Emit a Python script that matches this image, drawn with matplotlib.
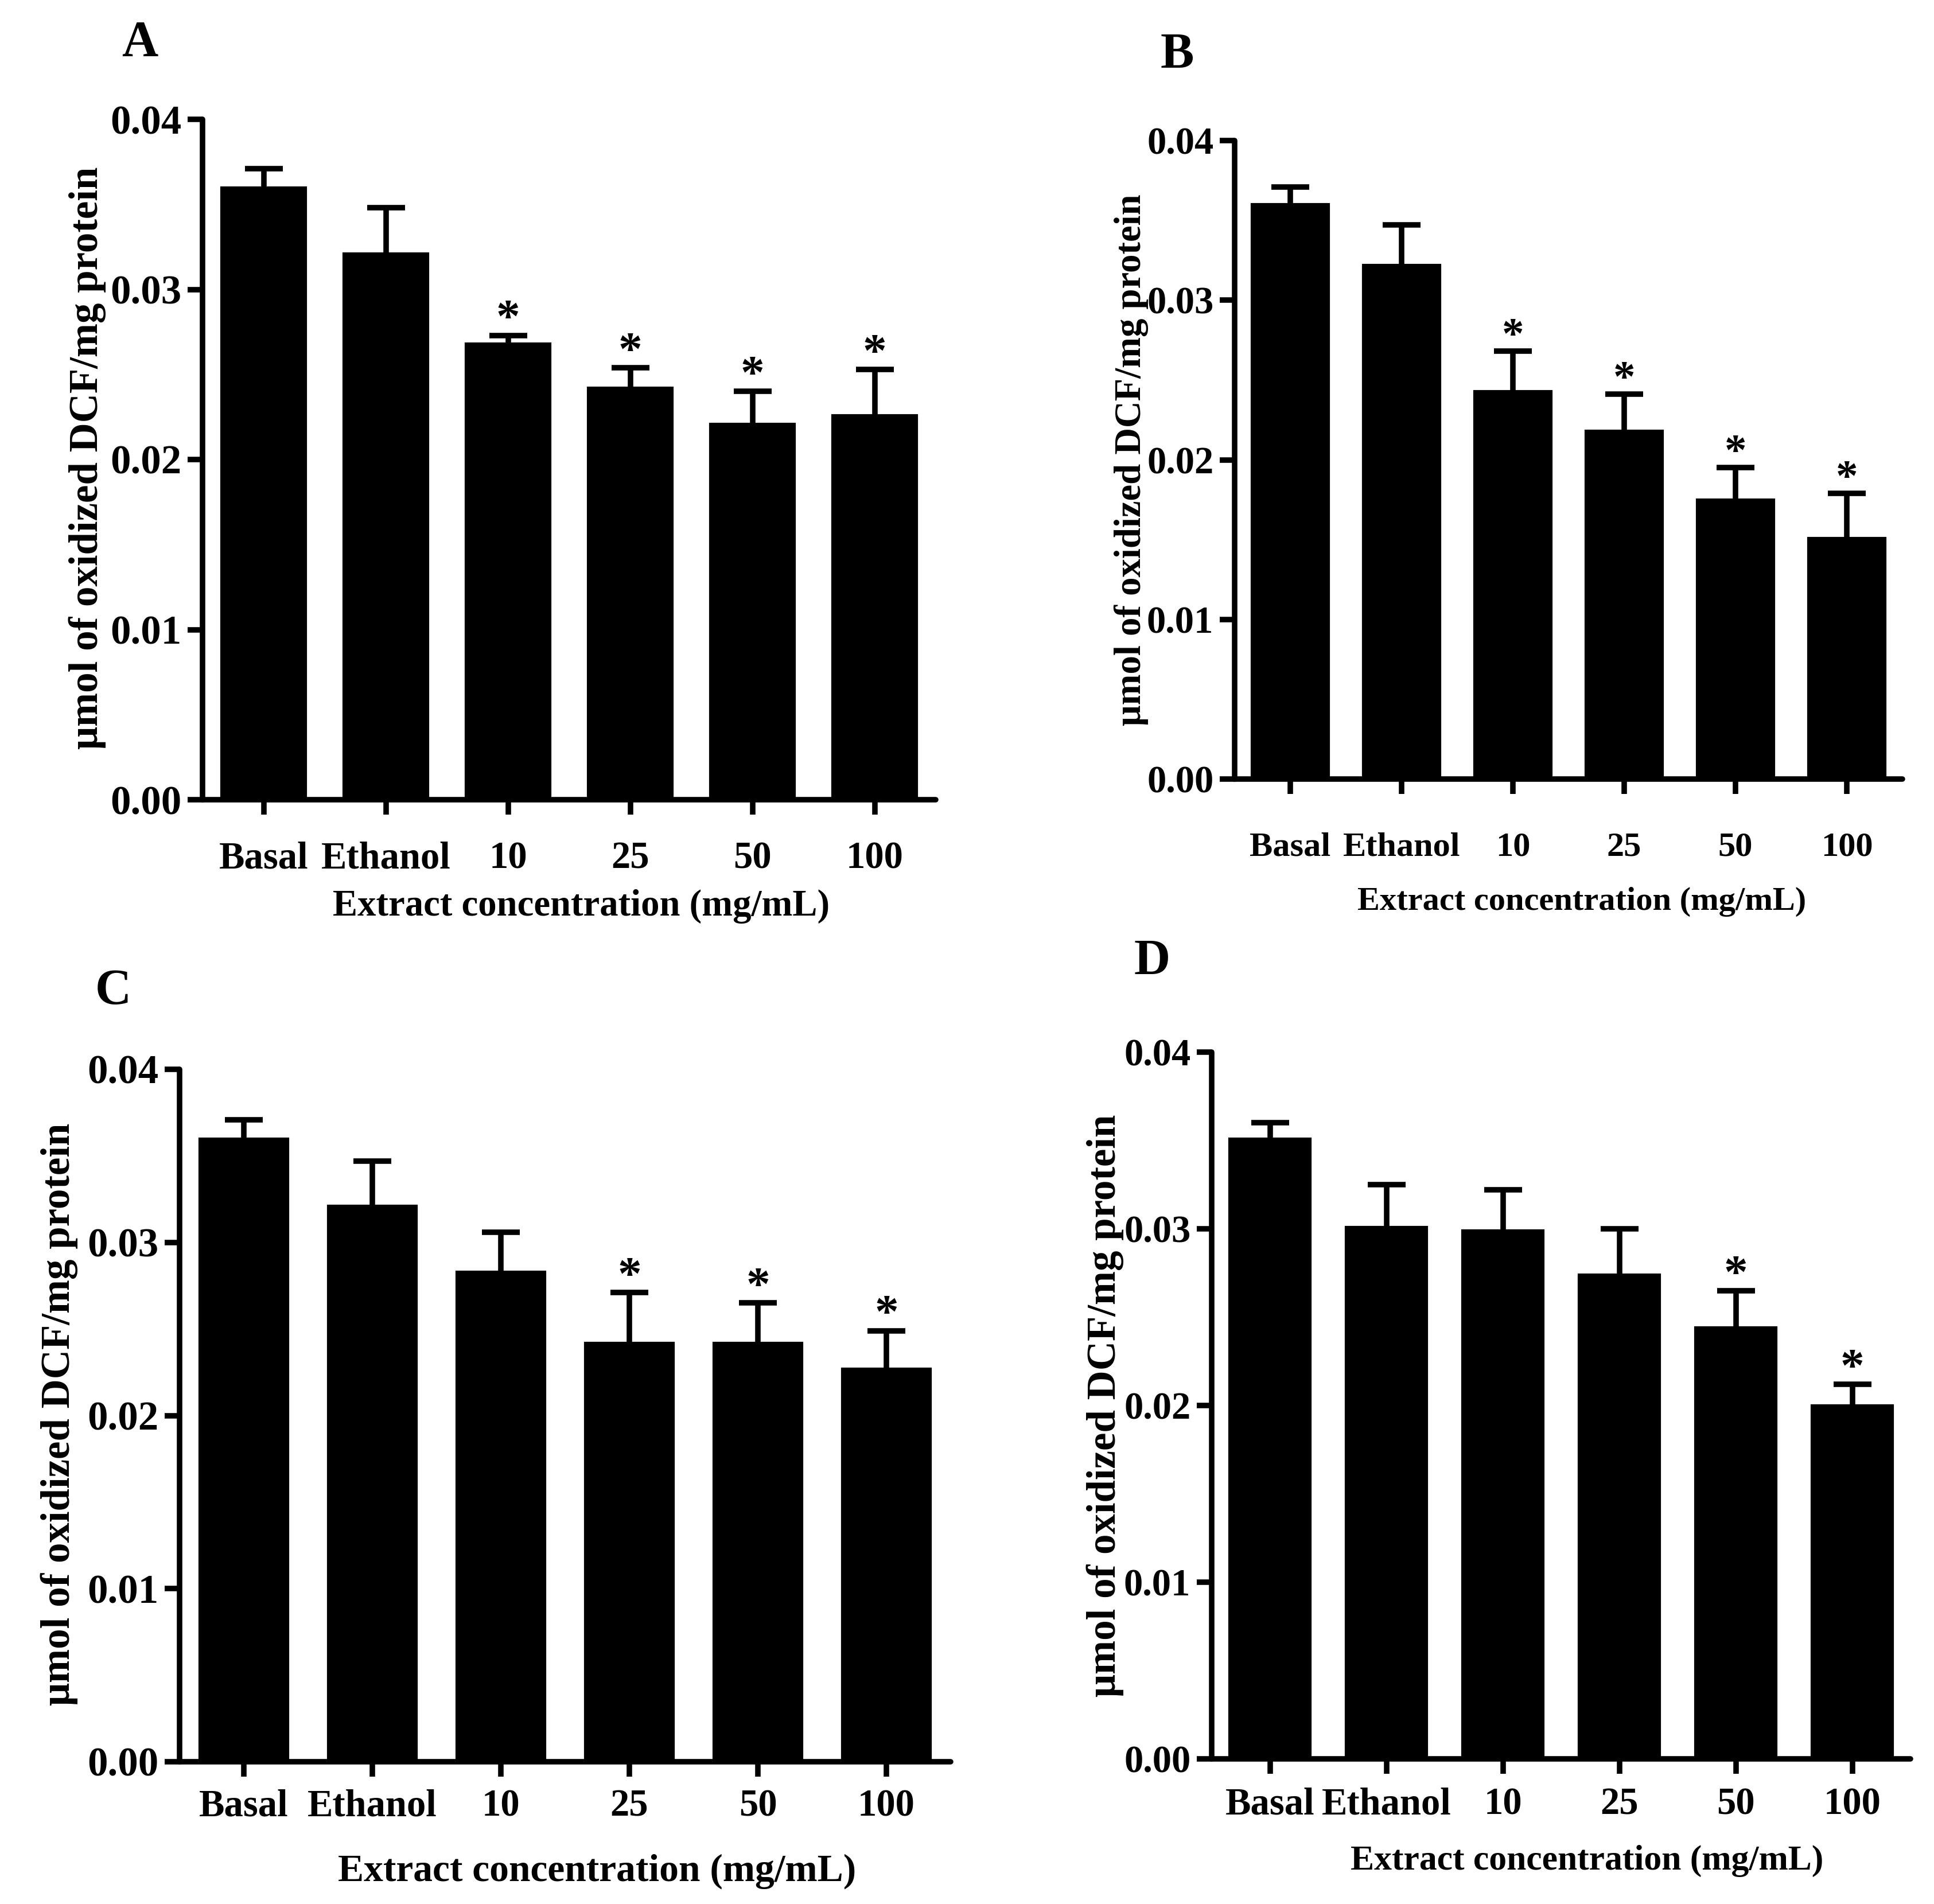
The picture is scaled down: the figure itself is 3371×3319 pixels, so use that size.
import matplotlib
matplotlib.use("Agg")
import matplotlib.pyplot as plt
import numpy as np

# ---------------------------------------------------------
# data
# ---------------------------------------------------------
CATEGORIES = ["Basal", "Ethanol", "10", "25", "50", "100"]
Y_TICKS = [0.00, 0.01, 0.02, 0.03, 0.04]
Y_LABEL = "\u03bcmol of oxidized DCF/mg protein"
X_LABEL = "Extract concentration (mg/mL)"

A_MEAN = [0.0360, 0.0321, 0.0268, 0.0242, 0.0221, 0.0226]
A_SEM = [0.0011, 0.0027, 0.0005, 0.0012, 0.0019, 0.0027]
A_STAR = [False, False, True, True, True, True]

B_MEAN = [0.0360, 0.0322, 0.0243, 0.0218, 0.0175, 0.0151]
B_SEM = [0.0011, 0.0025, 0.0025, 0.0023, 0.0020, 0.0028]
B_STAR = [False, False, True, True, True, True]

C_MEAN = [0.0360, 0.0321, 0.0283, 0.0242, 0.0242, 0.0227]
C_SEM = [0.0011, 0.0026, 0.0023, 0.0029, 0.0023, 0.0022]
C_STAR = [False, False, False, True, True, True]

D_MEAN = [0.0351, 0.0301, 0.0299, 0.0274, 0.0244, 0.0200]
D_SEM = [0.0009, 0.0024, 0.0023, 0.0026, 0.0021, 0.0012]
D_STAR = [False, False, False, False, True, True]

# ---------------------------------------------------------
# layout, in pixels of the 3371 x 3319 image
# ---------------------------------------------------------
W, H, DPI = 3371, 3319, 300
LW = 2.3

# letter, data, axes box (left, top, right, bottom),
# font sizes (yticks, xticks, ylabel, xlabel), x tick pad,
# ylabel centre, xlabel centre, letter centre
PANELS = [
    ("A", A_MEAN, A_SEM, A_STAR, (353, 208, 1631, 1394), (17, 16, 17, 15.5), 11,
     (152, 798), (1013, 1580), (244, 76)),
    ("B", B_MEAN, B_SEM, B_STAR, (2152, 245, 3316, 1358), (16, 14.5, 15.5, 14), 16,
     (1972, 802), (2757, 1572), (2052, 97)),
    ("C", C_MEAN, C_SEM, C_STAR, (313, 1864, 1657, 3071), (17, 16, 17, 16.2), 5,
     (103, 2465), (1041, 3262), (197, 1728)),
    ("D", D_MEAN, D_SEM, D_STAR, (2112, 1834, 3330, 3066), (16, 16, 17, 14.8), 5.5,
     (1926, 2450), (2766, 3244), (2008, 1677)),
]

plt.rcParams["font.family"] = ["Liberation Serif", "DejaVu Serif"]
plt.rcParams["font.weight"] = "bold"

fig = plt.figure(figsize=(W / DPI, H / DPI), dpi=DPI)


def fx(px):
    return px / W


def fy(py):
    return 1 - py / H


for letter, mean, sem, star, box, sizes, xpad, ylc, xlc, lc in PANELS:
    l, t, r, b = box
    fs_y, fs_x, fs_yl, fs_xl = sizes
    ax = fig.add_axes([fx(l), fy(b), fx(r) - fx(l), fy(t) - fy(b)])
    x = np.arange(len(CATEGORIES))

    ax.bar(x, mean, width=0.69, color="black", edgecolor="black", zorder=2)
    eb = ax.errorbar(x, mean, yerr=[np.zeros(len(mean)), sem], fmt="none",
                     ecolor="black", elinewidth=LW, capsize=8, capthick=LW,
                     zorder=3)
    # only the upper cap is drawn in the original
    eb[1][0].set_visible(False)

    # significance marks
    for i in range(len(mean)):
        if star[i]:
            ax.annotate("*", (x[i], mean[i] + sem[i]), xytext=(0, 1.5),
                        textcoords="offset points", ha="center", va="baseline",
                        fontsize=fs_x + 4, fontweight="bold")

    ax.set_xlim(-0.5, 5.5)
    ax.set_ylim(0, 0.04)
    ax.set_yticks(Y_TICKS)
    ax.set_yticklabels([f"{v:.2f}" for v in Y_TICKS])
    ax.set_xticks(x)
    ax.set_xticklabels(CATEGORIES)

    for s in ["top", "right"]:
        ax.spines[s].set_visible(False)
    for s in ["left", "bottom"]:
        ax.spines[s].set_linewidth(LW)
        ax.spines[s].set_capstyle("round")

    ax.tick_params(axis="both", direction="out", length=6.3, width=LW)
    ax.tick_params(axis="y", pad=2.5, labelsize=fs_y)
    ax.tick_params(axis="x", pad=xpad, labelsize=fs_x)
    for lab in ax.get_xticklabels() + ax.get_yticklabels():
        lab.set_fontweight("bold")

    fig.text(fx(ylc[0]), fy(ylc[1]), Y_LABEL, rotation=90, ha="center",
             va="center", fontsize=fs_yl, fontweight="bold")
    fig.text(fx(xlc[0]), fy(xlc[1]), X_LABEL, ha="center", va="center",
             fontsize=fs_xl, fontweight="bold")
    fig.text(fx(lc[0]), fy(lc[1]), letter, ha="center", va="center",
             fontsize=21, fontweight="bold")

fig.savefig("out.png", dpi=DPI, facecolor="white")
